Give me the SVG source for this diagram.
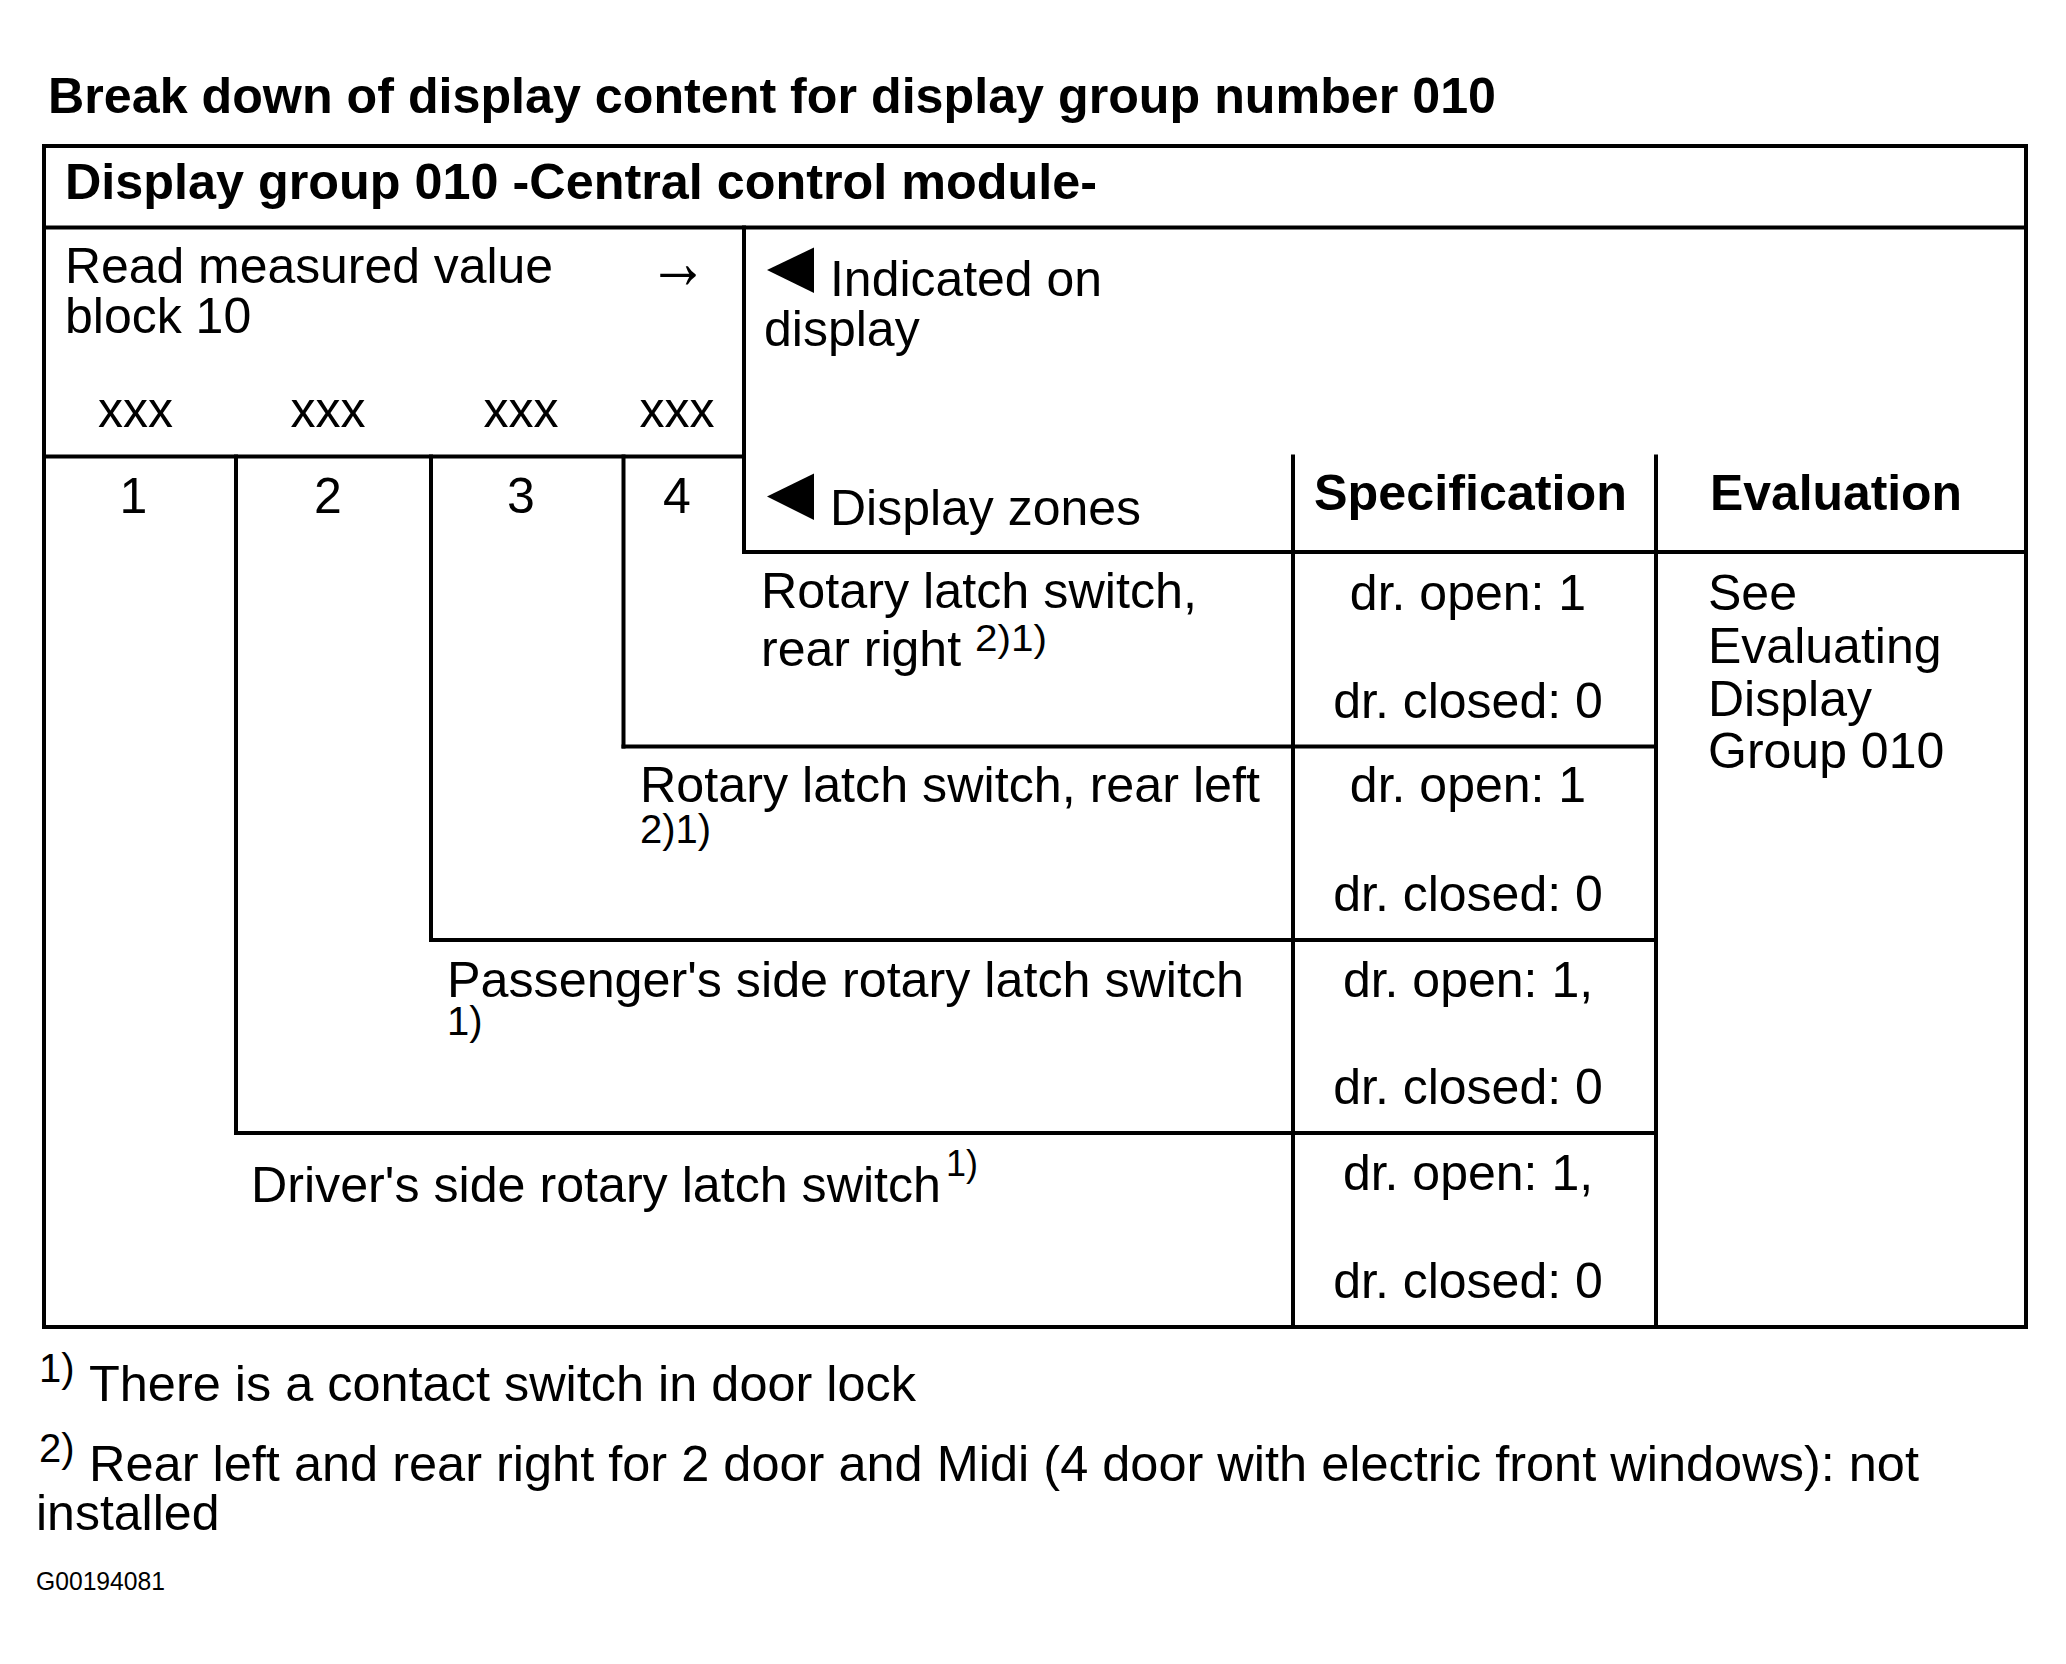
<svg xmlns="http://www.w3.org/2000/svg" width="2066" height="1664" viewBox="0 0 2066 1664">
<style>
text{font-family:"Liberation Sans","Arial","DejaVu Sans",sans-serif;fill:#000;font-size:50px}
.b{font-weight:bold}
.m{text-anchor:middle}
.sup{font-size:36px}
.sm{font-size:40px}
.arr{font-size:78px}
.code{font-size:25px}
.ln{stroke:#000;stroke-width:4;fill:none;stroke-linecap:square}
</style>
<rect width="2066" height="1664" fill="#fff"/>
<g id="title"><text class="b" x="48" y="113" textLength="1448" lengthAdjust="spacingAndGlyphs">Break down of display content for display group number 010</text></g>
<g id="grid" class="ln">
<rect x="44" y="146" width="1982" height="1181"/>
<line x1="44" y1="227.5" x2="2026" y2="227.5"/>
<line x1="744" y1="227.5" x2="744" y2="552"/>
<line x1="44" y1="456.5" x2="744" y2="456.5"/>
<line x1="744" y1="552" x2="2026" y2="552"/>
<line x1="236" y1="456.5" x2="236" y2="1133"/>
<line x1="431" y1="456.5" x2="431" y2="940"/>
<line x1="623.5" y1="456.5" x2="623.5" y2="746.5"/>
<line x1="623.5" y1="746.5" x2="1656" y2="746.5"/>
<line x1="431" y1="940" x2="1656" y2="940"/>
<line x1="236" y1="1133" x2="1656" y2="1133"/>
<line x1="1293" y1="456.5" x2="1293" y2="1327"/>
<line x1="1656" y1="456.5" x2="1656" y2="1327"/>
</g>
<g id="header"><text class="b" x="65" y="198.5" textLength="1032" lengthAdjust="spacingAndGlyphs">Display group 010 -Central control module-</text></g>
<g id="read-block">
<text x="65" y="283" textLength="488" lengthAdjust="spacingAndGlyphs">Read measured value</text>
<text x="65" y="333">block 10</text>
<text class="arr" x="648" y="288" textLength="60" lengthAdjust="spacingAndGlyphs">→</text>
<text class="m" x="135.5" y="427">xxx</text>
<text class="m" x="328" y="427">xxx</text>
<text class="m" x="521" y="427">xxx</text>
<text class="m" x="677" y="427">xxx</text>
<text class="m" x="133.5" y="512.5">1</text>
<text class="m" x="328" y="512.5">2</text>
<text class="m" x="521" y="512.5">3</text>
<text class="m" x="677" y="512.5">4</text>
</g>
<g id="indicated">
<polygon points="767,270 814,247.5 814,293"/>
<text x="830" y="296" textLength="272" lengthAdjust="spacingAndGlyphs">Indicated on</text>
<text x="764" y="346">display</text>
</g>
<g id="zones-head">
<polygon points="767,496.5 814,473.5 814,520"/>
<text x="830" y="525" textLength="311" lengthAdjust="spacingAndGlyphs">Display zones</text>
<text class="b" x="1314" y="509.5" textLength="313" lengthAdjust="spacingAndGlyphs">Specification</text>
<text class="b" x="1710" y="509.5" textLength="252" lengthAdjust="spacingAndGlyphs">Evaluation</text>
</g>
<g id="row1">
<text x="761" y="608" textLength="436" lengthAdjust="spacingAndGlyphs">Rotary latch switch,</text>
<text x="761" y="666">rear right</text>
<text class="sup" x="975" y="651" textLength="72" lengthAdjust="spacingAndGlyphs">2)1)</text>
<text class="m" x="1468" y="610">dr. open: 1</text>
<text class="m" x="1468" y="718">dr. closed: 0</text>
</g>
<g id="row2">
<text x="640" y="802" textLength="620" lengthAdjust="spacingAndGlyphs">Rotary latch switch, rear left</text>
<text class="sm" x="640" y="843">2)1)</text>
<text class="m" x="1468" y="802">dr. open: 1</text>
<text class="m" x="1468" y="911">dr. closed: 0</text>
</g>
<g id="row3">
<text x="447" y="996.5" textLength="797" lengthAdjust="spacingAndGlyphs">Passenger's side rotary latch switch</text>
<text class="sm" x="447" y="1035">1)</text>
<text class="m" x="1468" y="996.5">dr. open: 1,</text>
<text class="m" x="1468" y="1104">dr. closed: 0</text>
</g>
<g id="row4">
<text x="251" y="1202" textLength="690" lengthAdjust="spacingAndGlyphs">Driver's side rotary latch switch</text>
<text class="sup" x="946" y="1176">1)</text>
<text class="m" x="1468" y="1190">dr. open: 1,</text>
<text class="m" x="1468" y="1298">dr. closed: 0</text>
</g>
<g id="evaluation">
<text x="1708" y="610">See</text>
<text x="1708" y="663">Evaluating</text>
<text x="1708" y="716">Display</text>
<text x="1708" y="768">Group 010</text>
</g>
<g id="footnotes">
<text class="sm" x="39" y="1382">1)</text>
<text x="89" y="1401" textLength="827" lengthAdjust="spacingAndGlyphs">There is a contact switch in door lock</text>
<text class="sm" x="39" y="1462">2)</text>
<text x="89" y="1480.5" textLength="1830" lengthAdjust="spacingAndGlyphs">Rear left and rear right for 2 door and Midi (4 door with electric front windows): not</text>
<text x="36" y="1530">installed</text>
<text class="code" x="36" y="1590" textLength="129" lengthAdjust="spacingAndGlyphs">G00194081</text>
</g>
</svg>
